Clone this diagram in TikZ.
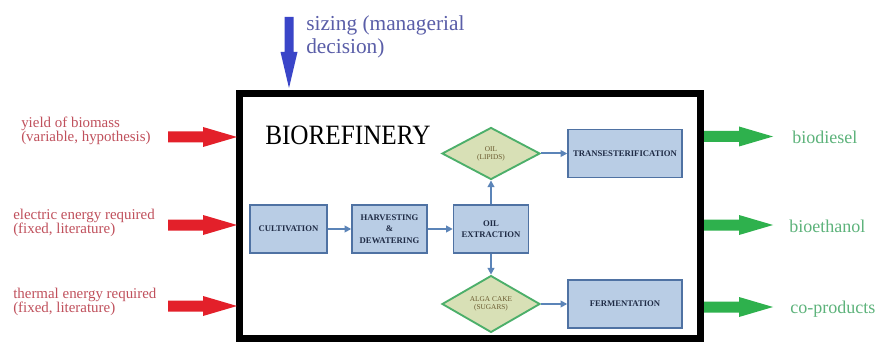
\documentclass[tikz,border=0pt]{standalone}
\usepackage{fontspec}
\usepackage{graphicx}
\setmainfont{Liberation Serif}
\usetikzlibrary{shapes.geometric,arrows.meta}
\definecolor{boxfill}{HTML}{B9CDE5}
\definecolor{boxline}{HTML}{4F72A3}
\definecolor{boxtext}{HTML}{1F2B45}
\definecolor{dfill}{HTML}{D8E0B6}
\definecolor{dline}{HTML}{4CAF6A}
\definecolor{dtext}{HTML}{6B5B30}
\definecolor{connc}{HTML}{5B84B8}
\definecolor{redA}{HTML}{E3202A}
\definecolor{redT}{HTML}{C0505C}
\definecolor{greenA}{HTML}{2EB14D}
\definecolor{greenT}{HTML}{5DB37B}
\definecolor{blueA}{HTML}{3A45C8}
\definecolor{blueT}{HTML}{5A5EA8}
\tikzset{
  pics/rarr/.style={code={\fill[#1] (0,-5.5) -- (35,-5.5) -- (35,-10) -- (69,0) -- (35,10) -- (35,5.5) -- (0,5.5) -- cycle;}},
}
\begin{document}
\begin{tikzpicture}[x=0.75pt,y=-0.75pt,
  stage/.style={draw=boxline, line width=1.1pt, fill=boxfill, minimum height=36pt, inner sep=1pt, align=center, text=boxtext, font=\fontsize{6.5}{8.5}\selectfont\bfseries},
  prod/.style={diamond, draw=dline, line width=1.4pt, fill=dfill, minimum width=73.5pt, minimum height=39pt, inner sep=0pt, align=center, text=dtext, font=\fontsize{5.5}{6.2}\selectfont},
  conn/.style={draw=connc, line width=1.5pt, -{Triangle[length=5pt,width=5pt]}},
  intext/.style={text=redT, align=left, anchor=west, inner sep=0pt, font=\fontsize{11.2}{10.8}\selectfont},
  outtext/.style={text=greenT, anchor=base west, inner sep=0pt, font=\fontsize{13.5}{14}\selectfont},
]
\useasboundingbox (0,0) rectangle (877,342);
\fill[white] (0,0) rectangle (877,342);

% frame
\node[draw, line width=5.25pt, minimum width=345.4pt, minimum height=183.4pt, inner sep=0pt] (frame) at (469.75,216.25) {};
\node[anchor=base west, inner sep=0pt, font=\fontsize{21}{21}\selectfont] (title) at (265,145) {\scalebox{0.9}[1]{BIOREFINERY}};

% process nodes
\node[stage, minimum width=57.75pt] (cult) at (288.5,229) {CULTIVATION};
\node[stage, minimum width=56.25pt] (harv) at (389.5,229) {HARVESTING\\\&\\DEWATERING};
\node[stage, minimum width=56.25pt] (oilx) at (491,229) {OIL\\EXTRACTION};
\node[prod] (lip) at (491,153.5) {OIL\\(LIPIDS)};
\node[prod] (cake) at (491,304) {ALGA CAKE\\(SUGARS)};
\node[stage, minimum width=85.5pt] (trans) at (625,153.5) {TRANSESTERIFICATION};
\node[stage, minimum width=85.5pt] (ferm) at (625,304) {FERMENTATION};

\draw[conn] (cult) -- (harv);
\draw[conn] (harv) -- (oilx);
\draw[conn] (oilx) -- (lip);
\draw[conn] (oilx) -- (cake);
\draw[conn] (lip) -- (trans);
\draw[conn] (cake) -- (ferm);

% inputs
\pic at (168,137) {rarr=redA};
\pic at (168,225) {rarr=redA};
\pic at (168,306) {rarr=redA};
\node[intext] (in1) at (21,131) {yield of biomass\\(variable, hypothesis)};
\node[intext] (in2) at (13,223) {electric energy required\\(fixed, literature)};
\node[intext] (in3) at (13,302) {thermal energy required\\(fixed, literature)};

% outputs
\pic at (704,136.5) {rarr=greenA};
\pic at (704,225) {rarr=greenA};
\pic at (704,307) {rarr=greenA};
\node[outtext] (out1) at (792,143) {biodiesel};
\node[outtext] (out2) at (789,232) {bioethanol};
\node[outtext] (out3) at (790,313) {co-products};

% decision
\fill[blueA] (284.5,17) -- (293.5,17) -- (293.5,52) -- (297.5,52) -- (289,88) -- (280.5,52) -- (284.5,52) -- cycle;
\node[text=blueT, align=left, anchor=west, inner sep=0pt, font=\fontsize{16}{16.7}\selectfont] (dec) at (306,37) {sizing (managerial\\decision)};
\end{tikzpicture}
\end{document}
